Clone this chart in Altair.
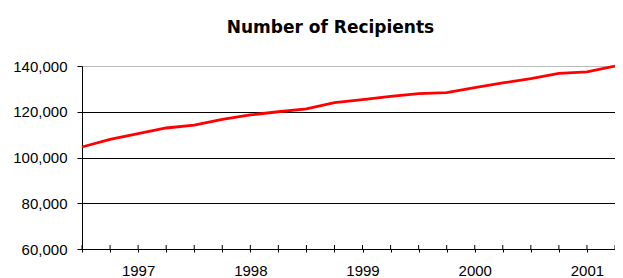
import altair as alt
import pandas as pd

quarters = ["1996 Q3", "1996 Q4", "1997 Q1", "1997 Q2", "1997 Q3", "1997 Q4",
            "1998 Q1", "1998 Q2", "1998 Q3", "1998 Q4", "1999 Q1", "1999 Q2",
            "1999 Q3", "1999 Q4", "2000 Q1", "2000 Q2", "2000 Q3", "2000 Q4",
            "2001 Q1", "2001 Q2"]
recipients = [104600, 107900, 110400, 112900, 114200, 116700,
              118600, 120000, 121300, 124000, 125300, 126700,
              127900, 128400, 130500, 132600, 134500, 136800,
              137400, 140000]
y_ticks = [60000, 80000, 100000, 120000, 140000]

df = pd.DataFrame({"quarter": quarters, "recipients": recipients})

FONT = "Liberation Sans"
W, H = 533, 183

xscale = alt.Scale(type="point", padding=0, domain=quarters)
yscale = alt.Scale(domain=[60000, 140000], nice=False, zero=False)

line = alt.Chart(df).mark_line(color="#FF0000", strokeWidth=2.8).encode(
    x=alt.X("quarter:O", scale=xscale, sort=quarters,
            axis=alt.Axis(title=None, labelAngle=0, labelAlign="center",
                          domainColor="black",
                          tickColor="black", tickSize=3, labelPadding=18,
                          labelFont=FONT, labelFontSize=15, labelColor="black",
                          labelExpr="indexof(datum.label, 'Q1') >= 0 ? slice(datum.label, 0, 4) : ''",
                          grid=False)),
    y=alt.Y("recipients:Q", scale=yscale,
            axis=alt.Axis(title=None, values=y_ticks, format=",.0f",
                          domainColor="black", tickColor="black", tickSize=5,
                          labelPadding=10, labelFont=FONT, labelFontSize=15,
                          labelColor="black", grid=True,
                          gridColor={"condition": {"test": "datum.value == 140000", "value": "#bbbbbb"}, "value": "black"},
                          gridWidth=1)),
)

# upper half of the x-axis tick marks (they cross the axis line)
ticks_up = alt.Chart(df).mark_rule(color="black", strokeWidth=1).encode(
    x=alt.X("quarter:O", scale=xscale, sort=quarters),
    y=alt.value(H - 4),
    y2=alt.value(H),
)

chart = alt.layer(ticks_up, line).properties(
    width=W,
    height=H,
    autosize=alt.AutoSizeParams(type="none"),
    padding={"left": 74, "top": 58, "right": 0, "bottom": 33},
    title=alt.TitleParams("Number of Recipients", font="DejaVu Sans", fontSize=17,
                          fontWeight="bold", color="black", anchor="middle",
                          frame="group", dx=-18, offset=22),
).configure_view(stroke=None).configure(background="white")

chart.save("out.html", embed_options={"renderer": "svg", "actions": False})
